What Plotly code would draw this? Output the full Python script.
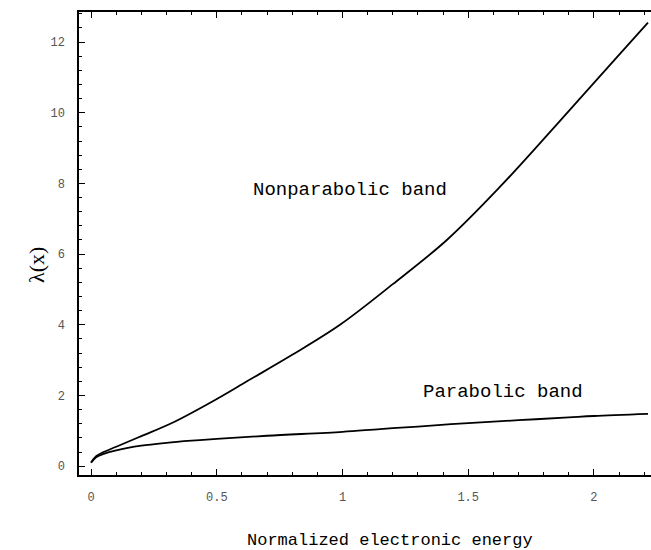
import plotly.graph_objects as go

# Normalized electronic energy (x) and lambda(x) for the two band models
x_nonparabolic = [0.0, 0.02, 0.05, 0.1, 0.2, 0.33, 0.5, 0.62, 0.8, 0.99,
                  1.2, 1.415, 1.626, 1.85, 2.09, 2.215]
y_nonparabolic = [0.1, 0.28, 0.4, 0.55, 0.85, 1.25, 1.9, 2.4, 3.15, 4.0,
                  5.15, 6.4, 7.9, 9.65, 11.56, 12.55]

x_parabolic = [0.0, 0.02, 0.05, 0.1, 0.2, 0.3, 0.4, 0.5, 0.7, 1.0,
               1.15, 1.3, 1.5, 1.7, 1.9, 2.0, 2.215]
y_parabolic = [0.1, 0.25, 0.35, 0.45, 0.58, 0.66, 0.72, 0.77, 0.86, 0.97,
               1.05, 1.12, 1.22, 1.3, 1.38, 1.42, 1.48]

x_ticks = [0, 0.5, 1, 1.5, 2]
x_tick_text = ["0", "0.5", "1", "1.5", "2"]
y_ticks = [0, 2, 4, 6, 8, 10, 12]
y_tick_text = ["0", "2", "4", "6", "8", "10", "12"]

MONO = "Courier New, Liberation Mono, monospace"
SERIF = "Liberation Serif, DejaVu Serif, serif"

fig = go.Figure()
fig.add_trace(go.Scatter(x=x_nonparabolic, y=y_nonparabolic, mode="lines",
                         line=dict(color="black", width=1.8, shape="spline"),
                         showlegend=False))
fig.add_trace(go.Scatter(x=x_parabolic, y=y_parabolic, mode="lines",
                         line=dict(color="black", width=1.8, shape="spline"),
                         showlegend=False))

fig.update_layout(
    width=651, height=550,
    margin=dict(l=79, r=0, t=12, b=75),
    paper_bgcolor="white", plot_bgcolor="white",
    font=dict(family=MONO, color="black"),
)

fig.update_xaxes(
    range=[-0.048, 2.227],
    tickvals=x_ticks, ticktext=x_tick_text,
    ticks="inside", ticklen=6, tickwidth=1, tickcolor="black",
    minor=dict(dtick=0.1, tick0=0, ticks="inside", ticklen=3,
               tickcolor="black", tickwidth=1),
    showline=True, linecolor="black", linewidth=1.5, mirror="allticks",
    showgrid=False, zeroline=False,
    tickfont=dict(family=MONO, size=12, color="#555"),
    ticklabelstandoff=10,
)
fig.update_yaxes(
    range=[-0.25, 12.85],
    tickvals=y_ticks, ticktext=y_tick_text,
    ticks="inside", ticklen=6, tickwidth=1, tickcolor="black",
    minor=dict(dtick=0.4, tick0=0, ticks="inside", ticklen=3,
               tickcolor="black", tickwidth=1),
    showline=True, linecolor="black", linewidth=1.5, mirror=False,
    showgrid=False, zeroline=False,
    tickfont=dict(family=MONO, size=12, color="#555"),
    ticklabelstandoff=10,
)

fig.add_annotation(x=1.03, y=7.82, xref="x", yref="y", text="Nonparabolic band",
                   showarrow=False, font=dict(family=MONO, size=19, color="black"))
fig.add_annotation(x=1.64, y=2.1, xref="x", yref="y", text="Parabolic band",
                   showarrow=False, font=dict(family=MONO, size=19, color="black"))
fig.add_annotation(x=(390 - 79) / 572, y=-(540 - 475) / 463, xref="paper", yref="paper",
                   xanchor="center", yanchor="middle",
                   text="Normalized electronic energy", showarrow=False,
                   font=dict(family=MONO, size=17, color="black"))
fig.add_annotation(x=-(79 - 36) / 572, y=(475 - 265) / 463, xref="paper", yref="paper",
                   xanchor="center", yanchor="middle",
                   text="λ(x)", textangle=-90, showarrow=False,
                   font=dict(family=SERIF, size=22, color="black"))

fig.write_html("out.html")
